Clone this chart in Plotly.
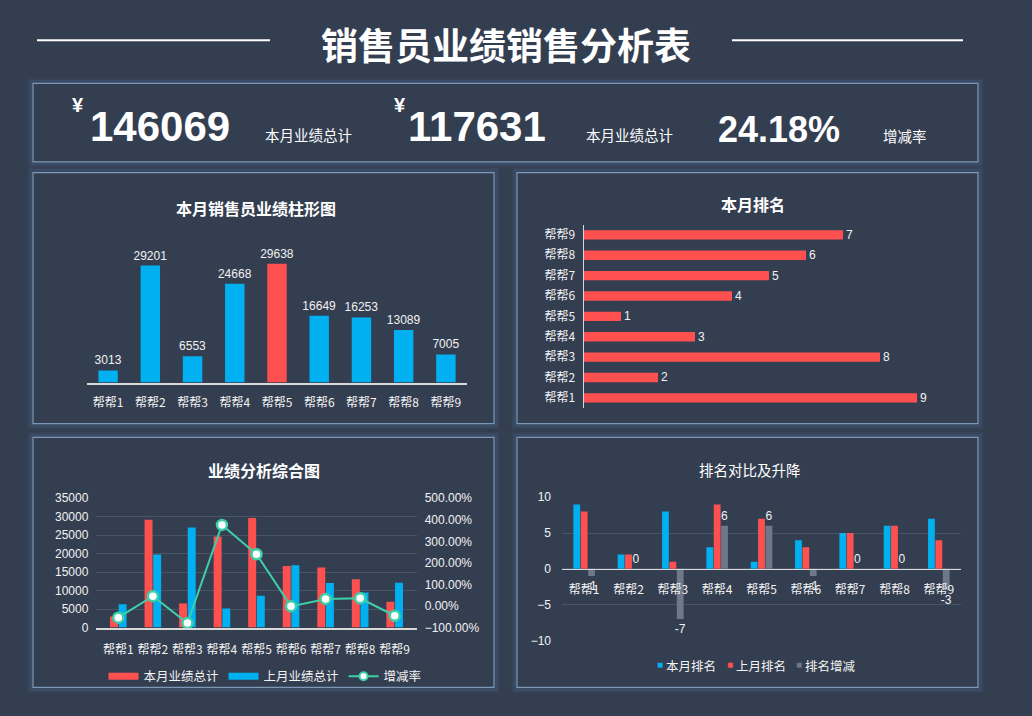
import plotly.graph_objects as go

W, H = 1032, 716
BG = "#343e51"
RED = "#ff5050"
BLUE = "#00b0f0"
GRAY = "#6e7889"
TEAL = "#3fcfa8"
GRID = "#4a5467"
TXT = "#f2f2f2"
CJK = "Noto Sans CJK SC, Liberation Sans, Arial, sans-serif"
NUM = "Liberation Sans, Arial, Noto Sans CJK SC, sans-serif"

names = ["帮帮1", "帮帮2", "帮帮3", "帮帮4", "帮帮5", "帮帮6", "帮帮7", "帮帮8", "帮帮9"]
this_month = [3013, 29201, 6553, 24668, 29638, 16649, 16253, 13089, 7005]
last_month = [6300, 19800, 27100, 5200, 8600, 16900, 12100, 9500, 12131]
growth = [-0.54, 0.46, -0.79, 3.76, 2.40, -0.015, 0.33, 0.36, -0.45]
rank_now = [9, 2, 8, 3, 1, 4, 5, 6, 7]
rank_last = [8, 2, 1, 9, 7, 3, 5, 6, 4]
rank_change = [-1, 0, -7, 6, 6, -1, 0, 0, -3]

kpi_now = "146069"
kpi_last = "117631"
kpi_rate = "24.18%"


def px(x):
    return x / W


def py(y):
    return 1 - y / H


fig = go.Figure()

# chart 1: this month's bars
bar_colors = [RED if v == max(this_month) else BLUE for v in this_month]
fig.add_trace(go.Bar(x=names, y=this_month, marker_color=bar_colors, text=this_month,
                     textposition="outside", constraintext="none",
                     textfont=dict(color=TXT, size=12, family=NUM),
                     cliponaxis=False, showlegend=False, xaxis="x", yaxis="y"))

# chart 2: ranking
fig.add_trace(go.Bar(y=names, x=rank_now, orientation="h", marker_color=RED, text=rank_now,
                     textposition="outside", constraintext="none",
                     textfont=dict(color=TXT, size=12, family=NUM),
                     cliponaxis=False, showlegend=False, xaxis="x2", yaxis="y2"))

# chart 3: combo (legend entries drawn as thick lines, like the wide swatches)
fig.add_trace(go.Bar(x=names, y=this_month, name="本月业绩总计", marker_color=RED,
                     showlegend=False, xaxis="x3", yaxis="y3"))
fig.add_trace(go.Bar(x=names, y=last_month, name="上月业绩总计", marker_color=BLUE,
                     showlegend=False, xaxis="x3", yaxis="y3"))
fig.add_trace(go.Scatter(x=names, y=growth, name="增减率", mode="lines+markers",
                         line=dict(color=TEAL, width=2),
                         marker=dict(size=10, color="white", line=dict(color=TEAL, width=2.5)),
                         cliponaxis=False, showlegend=False, xaxis="x3", yaxis="y4"))
for nm, col in [("本月业绩总计", RED), ("上月业绩总计", BLUE)]:
    fig.add_trace(go.Scatter(x=[None], y=[None], mode="lines", name=nm,
                             line=dict(color=col, width=7), xaxis="x3", yaxis="y3", legend="legend"))
fig.add_trace(go.Scatter(x=[None], y=[None], mode="lines+markers", name="增减率",
                         line=dict(color=TEAL, width=2),
                         marker=dict(size=8, color="white", line=dict(color=TEAL, width=2)),
                         xaxis="x3", yaxis="y4", legend="legend"))

# chart 4: rank compare
fig.add_trace(go.Bar(x=names, y=rank_now, name="本月排名", marker_color=BLUE,
                     showlegend=False, xaxis="x5", yaxis="y5"))
fig.add_trace(go.Bar(x=names, y=rank_last, name="上月排名", marker_color=RED,
                     showlegend=False, xaxis="x5", yaxis="y5"))
fig.add_trace(go.Bar(x=names, y=rank_change, name="排名增减", marker_color=GRAY,
                     text=rank_change, textposition="outside", constraintext="none",
                     textfont=dict(color=TXT, size=12, family=NUM), cliponaxis=False,
                     showlegend=False, xaxis="x5", yaxis="y5"))

tickf = dict(color=TXT, size=12, family=CJK)
numf = dict(color=TXT, size=12, family=NUM)

shapes = []
# panels with a soft blue glow outside the border
for x0, y0, x1, y1 in [(33, 78, 978, 158), (33, 169, 494, 425), (517, 169, 978, 425),
                       (33, 439, 494, 694), (517, 439, 978, 694)]:
    for off, alpha in [(4, 0.07), (2, 0.16)]:
        shapes.append(dict(type="rect", xref="paper", yref="paper", x0=px(x0 - off), x1=px(x1 + off),
                           y0=py(y1 + off), y1=py(y0 - off),
                           line=dict(color=f"rgba(90,140,200,{alpha})", width=3), layer="below"))
    shapes.append(dict(type="rect", xref="paper", yref="paper", x0=px(x0), x1=px(x1),
                       y0=py(y1), y1=py(y0), line=dict(color="#7e98b8", width=1.2), layer="below"))
# header lines
for x0, x1 in [(37, 270), (732, 963)]:
    shapes.append(dict(type="line", xref="paper", yref="paper", x0=px(x0), x1=px(x1),
                       y0=py(34), y1=py(34), line=dict(color="white", width=2)))

ann = []


def text(x, y, s, size, family=CJK, anchor="center", bold=False, color="white"):
    ann.append(dict(x=px(x), y=py(y), xref="paper", yref="paper", showarrow=False,
                    text=f"<b>{s}</b>" if bold else s, xanchor=anchor, yanchor="middle",
                    font=dict(color=color, size=size, family=family)))


text(506, 38, "销售员业绩销售分析表", 37, bold=True)
text(70, 100, "¥", 20, family=NUM, anchor="left", bold=True)
text(88, 122, kpi_now, 42, family=NUM, anchor="left", bold=True)
text(263, 130, "本月业绩总计", 14.5, anchor="left")
text(392, 100, "¥", 20, family=NUM, anchor="left", bold=True)
text(406, 122, kpi_last, 42, family=NUM, anchor="left", bold=True)
text(584, 130, "本月业绩总计", 14.5, anchor="left")
text(716, 125, kpi_rate, 36, family=NUM, anchor="left", bold=True)
text(881, 131, "增减率", 14.5, anchor="left")
text(256, 205, "本月销售员业绩柱形图", 16, bold=True)
text(753, 201, "本月排名", 16, bold=True)
text(264, 472, "业绩分析综合图", 16, bold=True)
text(750, 472, "排名对比及升降", 14.5)

# chart 4 legend: small squares right next to the labels
for x, nm, col in [(655, "本月排名", BLUE), (725, "上月排名", RED), (794, "排名增减", GRAY)]:
    text(x, 671, "■", 10, family=NUM, anchor="left", color=col)
    text(x + 9, 672, nm, 12.5, anchor="left", color=TXT)

fig.update_layout(
    autosize=True,
    paper_bgcolor=BG, plot_bgcolor="rgba(0,0,0,0)",
    margin=dict(l=0, r=0, t=0, b=0),
    font=dict(family=CJK, color=TXT, size=12),
    barmode="group",
    shapes=shapes, annotations=ann,
    xaxis=dict(domain=[px(87), px(467)], anchor="y", showgrid=False, tickfont=tickf,
               showline=True, linecolor="#d9d9d9", linewidth=1.5, ticks="", ticklabelstandoff=8),
    yaxis=dict(domain=[py(383), py(240)], anchor="x", range=[0, 35000], visible=False),
    xaxis2=dict(domain=[px(584), px(954)], anchor="y2", range=[0, 10], visible=False),
    yaxis2=dict(domain=[py(409), py(222)], anchor="x2", showgrid=False, tickfont=tickf,
                showline=True, linecolor="#d9d9d9", linewidth=1.2, ticks="", ticksuffix="  "),
    xaxis3=dict(domain=[px(96), px(417)], anchor="y3", showgrid=False, tickfont=tickf,
                showline=True, linecolor="#d9d9d9", linewidth=1.5, ticks="", ticklabelstandoff=10),
    yaxis3=dict(domain=[py(633), py(501)], anchor="x3", range=[0, 35000], dtick=5000,
                tickformat="d", gridcolor=GRID, zeroline=False, tickfont=numf, ticksuffix="  "),
    yaxis4=dict(overlaying="y3", side="right", anchor="x3", range=[-1, 5], dtick=1,
                tickformat=".2%", showgrid=False, zeroline=False, tickfont=numf, tickprefix="  "),
    xaxis5=dict(domain=[px(562), px(961)], anchor="free", position=py(573), showgrid=False,
                tickfont=tickf, showline=True, linecolor="#d9d9d9", linewidth=1.2, ticks="",
                ticklabelstandoff=10),
    yaxis5=dict(domain=[py(646), py(500)], anchor="x5", range=[-10, 10], dtick=5,
                gridcolor=GRID, zeroline=False, tickfont=numf, ticksuffix="   "),
    legend=dict(orientation="h", x=px(265), y=py(683), xanchor="center", yanchor="middle",
                font=dict(color=TXT, size=12.5, family=CJK), bgcolor="rgba(0,0,0,0)", itemwidth=30),
)
fig.update_traces(selector=dict(type="bar"), marker_line_width=0)
fig.update_layout(bargap=0.5, bargroupgap=0.08)

post = """
document.documentElement.style.margin='0';
document.documentElement.style.overflow='hidden';
document.body.style.margin='0';
document.body.style.overflow='hidden';
var gd = document.getElementById('{plot_id}');
gd.style.width='100vw'; gd.style.height='100vh';
Plotly.Plots.resize(gd);
"""
fig.write_html("out.html", config={"displayModeBar": False, "responsive": True},
               default_width="100vw", default_height="100vh", post_script=post)
